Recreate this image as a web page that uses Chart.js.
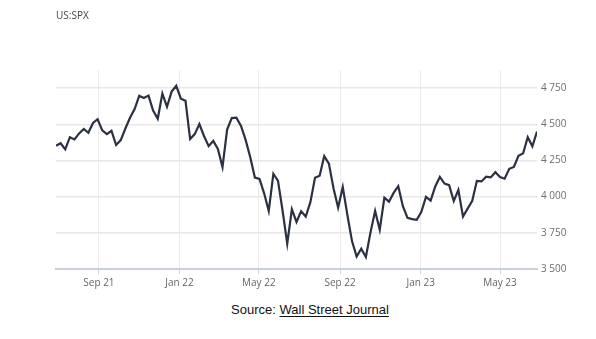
<!DOCTYPE html>
<html>
<head>
<meta charset="utf-8">
<script src="https://cdn.jsdelivr.net/npm/chart.js@4.4.0/dist/chart.umd.min.js"></script>
<style>
  body { margin: 0; background: #fff; }
  #wrap { position: relative; width: 596px; height: 339px; }
  #title { position: absolute; left: 56px; top: 8px; font: 10px "Open Sans", sans-serif; color: #444; }
  #chart-box { position: absolute; left: 0; top: 0; width: 596px; height: 300px; }
  #source { position: absolute; left: 0; width: 596px; top: 302px; text-align: center;
            font: 13px "Liberation Sans", Arial, sans-serif; color: #111; padding-left: 24px; box-sizing: border-box; }
  #source u { text-decoration-thickness: 1px; text-underline-offset: 2px; }
</style>
</head>
<body>
<div id="wrap">
  <div id="chart-box"><canvas id="spx"></canvas></div>
  <div id="title">US:SPX</div>
  <div id="source">Source: <u>Wall Street Journal</u></div>
</div>
<script>
// weekly closes, one per week starting Monday
const firstWeek = "2021-06-28";
const closes = [
  4352, 4369, 4327, 4411, 4395, 4437, 4468, 4441, 4509, 4535, 4458, 4432, 4455,
  4357, 4391, 4471, 4545, 4605, 4697, 4682, 4698, 4595, 4538, 4712, 4621, 4726, 4766,
  4677, 4662, 4398, 4432, 4501, 4419, 4349, 4385, 4329, 4204, 4463, 4543, 4546,
  4488, 4392, 4272, 4132, 4123, 4023, 3901, 4158, 4109, 3901, 3675, 3912, 3825,
  3899, 3863, 3962, 4130, 4145, 4280, 4228, 4058, 3924, 4067, 3873, 3693, 3586,
  3640, 3583, 3753, 3901, 3771, 3993, 3965, 4026, 4072, 3934, 3853, 3845, 3840,
  3895, 3999, 3973, 4070, 4136, 4090, 4079, 3970, 4046, 3862, 3917, 3971, 4109,
  4105, 4138, 4133, 4169, 4136, 4124, 4192, 4205, 4282, 4299, 4410, 4348, 4450
];
const monthTickDates = ["2021-09-01", "2022-01-01", "2022-05-01", "2022-09-01", "2023-01-01", "2023-05-01"];
const monthTickLabels = ["Sep 21", "Jan 22", "May 22", "Sep 22", "Jan 23", "May 23"];
const priceTicks = [3500, 3750, 4000, 4250, 4500, 4750];

const DAY = 86400000;
const t0 = Date.parse(firstWeek);
const dayOf = (d) => (Date.parse(d) - t0) / DAY;
const points = closes.map((v, i) => ({ x: i * 7, y: v }));
const monthDays = monthTickDates.map(dayOf);

const fmt = (v) => String(v).replace(/\B(?=(\d{3})+(?!\d))/g, " ");

new Chart(document.getElementById("spx"), {
  type: "line",
  data: {
    datasets: [{
      data: points,
      borderColor: "#2b3142",
      borderWidth: 2.2,
      pointRadius: 0,
      tension: 0,
      fill: false
    }]
  },
  options: {
    responsive: true,
    maintainAspectRatio: false,
    animation: false,
    layout: { padding: { left: 56, right: 19, top: 70, bottom: 6 } },
    plugins: { legend: { display: false }, tooltip: { enabled: false } },
    scales: {
      x: {
        type: "linear",
        min: 0,
        max: (closes.length - 1) * 7,
        afterBuildTicks: (axis) => { axis.ticks = monthDays.map((d) => ({ value: d })); },
        afterFit: (axis) => { axis.height = 25; },
        ticks: {
          callback: (v) => monthTickLabels[monthDays.indexOf(v)],
          color: "#666",
          font: { family: "Open Sans", size: 10 },
          padding: 3,
          maxRotation: 0,
          autoSkip: false
        },
        grid: { color: "#ececec", tickColor: "#cfd4db", tickLength: 5, lineWidth: 1 },
        border: { color: "#c9d0da", width: 2 }
      },
      y: {
        position: "right",
        min: 3500,
        max: 4875,
        afterBuildTicks: (axis) => { axis.ticks = priceTicks.map((v) => ({ value: v })); },
        afterFit: (axis) => { axis.width = 40; },
        ticks: {
          callback: fmt,
          color: "#6e6e6e",
          font: { family: "Open Sans", size: 10 },
          padding: 4
        },
        grid: { color: "#e8e8e8", lineWidth: 1.5, drawTicks: false },
        border: { display: false }
      }
    }
  }
});
</script>
</body>
</html>
